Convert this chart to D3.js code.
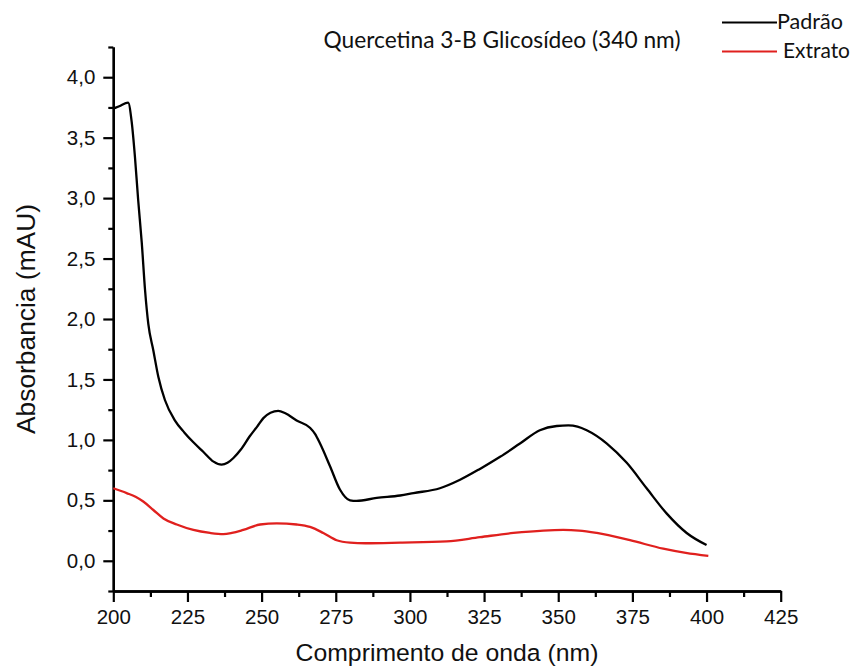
<!DOCTYPE html>
<html>
<head>
<meta charset="utf-8">
<script src="https://cdn.jsdelivr.net/npm/d3@7"></script>
<style>
  html, body { margin: 0; padding: 0; background: #fff; }
  svg { display: block; }
</style>
</head>
<body>
<svg id="chart" width="855" height="671"></svg>
<script>
// ---- Data ----
const titleText = "Quercetina 3-B Glicosídeo (340 nm)";
const xLabel = "Comprimento de onda (nm)";
const yLabel = "Absorbancia (mAU)";
const seriesNames = ["Padrão", "Extrato"];
const seriesColors = ["#000000", "#e0201e"];

const xTicks = [200, 225, 250, 275, 300, 325, 350, 375, 400, 425];
const yTicks = [0, 0.5, 1, 1.5, 2, 2.5, 3, 3.5, 4];

const wavePadrao = [200, 202, 205, 206.2, 207.3, 208.4, 209.6, 210.7, 211.8, 213.5, 215.2, 217.4, 220.8, 224, 227, 230.4, 233.8, 236.5, 238.5, 240.5, 243, 246, 248.5, 250.6, 253, 255.6, 258, 261.8, 266.3, 268, 269.7, 273.1, 276.4, 279.8, 282, 288.8, 296.7, 301.2, 310.1, 316.9, 323.6, 330.4, 337.1, 343.8, 349.5, 353.4, 356.5, 359.6, 366.4, 373.1, 379.8, 386.6, 393.3, 400];
const absPadrao = [3.74, 3.76, 3.79, 3.63, 3.34, 2.98, 2.63, 2.24, 1.96, 1.74, 1.52, 1.33, 1.16, 1.06, 0.98, 0.90, 0.82, 0.795, 0.81, 0.85, 0.92, 1.03, 1.11, 1.18, 1.225, 1.24, 1.22, 1.16, 1.10, 1.05, 0.97, 0.78, 0.59, 0.50, 0.495, 0.52, 0.54, 0.56, 0.60, 0.67, 0.76, 0.86, 0.97, 1.08, 1.115, 1.12, 1.11, 1.08, 0.97, 0.81, 0.60, 0.39, 0.23, 0.13];

const waveExtrato = [200, 204.5, 207.5, 210.1, 213.5, 216.9, 221.4, 227, 232.6, 237.1, 240, 243.8, 249.5, 255.1, 261.8, 266.3, 270.8, 275.3, 279.8, 285, 296.7, 312.4, 323.6, 334.9, 345, 351.7, 357, 363, 374.2, 385.4, 393, 400.6];
const absExtrato = [0.60, 0.56, 0.53, 0.49, 0.42, 0.35, 0.30, 0.255, 0.23, 0.22, 0.23, 0.255, 0.30, 0.31, 0.30, 0.28, 0.23, 0.17, 0.15, 0.145, 0.15, 0.16, 0.195, 0.23, 0.25, 0.255, 0.25, 0.23, 0.17, 0.10, 0.065, 0.04];

// ---- Layout ----
const svg = d3.select("#chart");
const x = d3.scaleLinear().domain([200, 425]).range([113.3, 780.7]);
const y = d3.scaleLinear().domain([-0.25, 4.25]).range([591, 47]);
const fmt = v => d3.format(".1f")(v).replace(".", ",");
const axisFont = "Liberation Sans, Arial, sans-serif";
const legendFont = "Lato, 'Open Sans', sans-serif";

function fitText(sel, width) {
  const node = sel.node();
  let size = parseFloat(sel.attr("font-size"));
  const w = node.getComputedTextLength();
  if (w > 0) sel.attr("font-size", (size * width / w).toFixed(2));
}

// minor ticks
const xMinor = xTicks.slice(0, -1).map(v => v + 12.5);
const yMinor = [-0.25].concat(yTicks.map(v => v + 0.25));

const gx = svg.append("g").attr("transform", `translate(0,${y(-0.25)})`);
gx.call(d3.axisBottom(x).tickValues(xMinor).tickSize(6).tickFormat("").tickSizeOuter(0));
gx.call(g => g.selectAll(".tick line").attr("stroke-width", 2.2));
const gx2 = svg.append("g").attr("transform", `translate(0,${y(-0.25)})`);
gx2.call(d3.axisBottom(x).tickValues(xTicks).tickSize(11).tickPadding(6).tickFormat(d => d).tickSizeOuter(0));
gx2.selectAll(".tick line").attr("stroke-width", 2.2);
gx2.selectAll(".tick text").attr("font-size", 20.5).attr("font-family", axisFont).attr("fill", "#111").attr("dy", "0.8em");
[gx, gx2].forEach(g => g.select(".domain").attr("stroke-width", 2.4));

const gy = svg.append("g").attr("transform", `translate(${x(200)},0)`);
gy.call(d3.axisLeft(y).tickValues(yMinor).tickSize(5).tickFormat("").tickSizeOuter(0));
gy.selectAll(".tick line").attr("stroke-width", 2.2);
const gy2 = svg.append("g").attr("transform", `translate(${x(200)},0)`);
gy2.call(d3.axisLeft(y).tickValues(yTicks).tickSize(10).tickPadding(8).tickFormat(fmt).tickSizeOuter(0));
gy2.selectAll(".tick line").attr("stroke-width", 2.2);
gy2.selectAll(".tick text").attr("font-size", 20.5).attr("font-family", axisFont).attr("fill", "#111");
[gy, gy2].forEach(g => g.select(".domain").attr("stroke-width", 2.4));

// lines
const line = d3.line().x(d => x(d[0])).y(d => y(d[1])).curve(d3.curveMonotoneX);
const series = [
  d3.zip(wavePadrao, absPadrao),
  d3.zip(waveExtrato, absExtrato)
];
series.forEach((s, i) => {
  svg.append("path").datum(s)
    .attr("d", line)
    .attr("fill", "none")
    .attr("stroke", seriesColors[i])
    .attr("stroke-width", 2.3)
    .attr("stroke-linejoin", "round");
});

// axis titles
const xt = svg.append("text")
  .attr("x", (x(200) + x(425)) / 2).attr("y", 661)
  .attr("text-anchor", "middle")
  .attr("font-family", axisFont).attr("font-size", 24).attr("fill", "#111")
  .text(xLabel);
fitText(xt, 303);

const yt = svg.append("text")
  .attr("transform", `translate(35,${(y(-0.25) + y(4.25)) / 2}) rotate(-90)`)
  .attr("text-anchor", "middle")
  .attr("font-family", axisFont).attr("font-size", 24).attr("fill", "#111")
  .text(yLabel);
fitText(yt, 230);

// chart title
const tt = svg.append("text")
  .attr("x", 502).attr("y", 48)
  .attr("text-anchor", "middle")
  .attr("font-family", legendFont).attr("font-size", 19).attr("fill", "#111")
  .text(titleText);
fitText(tt, 357);

// legend
const legY = [22.5, 51.5];
const legTextX = [777, 783];
const legW = [66, 67];
seriesNames.forEach((name, i) => {
  svg.append("line")
    .attr("x1", 722).attr("x2", 777)
    .attr("y1", legY[i]).attr("y2", legY[i])
    .attr("stroke", seriesColors[i]).attr("stroke-width", 2);
  const t = svg.append("text")
    .attr("x", legTextX[i]).attr("y", legY[i] + 6.5)
    .attr("font-family", legendFont).attr("font-size", 19).attr("fill", "#111")
    .text(name);
  fitText(t, legW[i]);
});
</script>
</body>
</html>
